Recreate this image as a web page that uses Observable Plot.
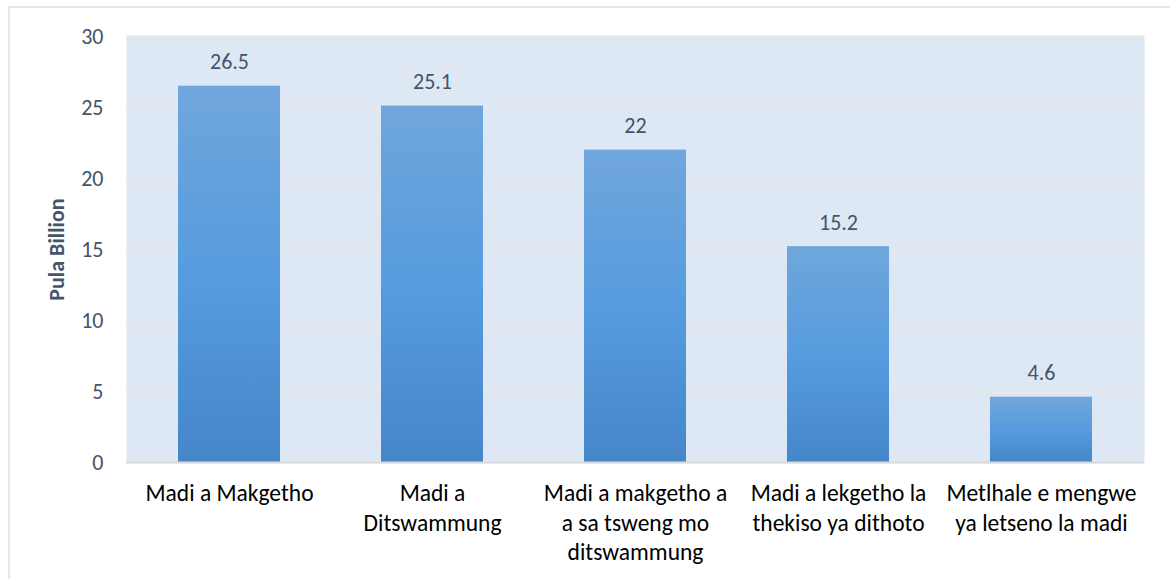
<!DOCTYPE html>
<html>
<head>
<meta charset="utf-8">
<script src="https://cdn.jsdelivr.net/npm/d3@7"></script>
<script src="https://cdn.jsdelivr.net/npm/@observablehq/plot@0.6"></script>
<style>
  html, body { margin: 0; padding: 0; background: #fff; }
  #wrap { position: relative; width: 1170px; height: 579px; overflow: hidden; }
  #border { position: absolute; left: 8px; top: 6px; width: 1200px; height: 700px; border: 2px solid #E3E6EA; box-sizing: border-box; }
  #chart { position: absolute; left: 0; top: 0; }
</style>
</head>
<body>
<div id="wrap">
  <div id="border"></div>
  <div id="chart"></div>
</div>
<script>
const categories = [
  "Madi a Makgetho",
  "Madi a Ditswammung",
  "Madi a makgetho a a sa tsweng mo ditswammung",
  "Madi a lekgetho la thekiso ya dithoto",
  "Metlhale e mengwe ya letseno la madi"
];
const tickLabels = [
  "Madi a Makgetho",
  "Madi a\nDitswammung",
  "Madi a makgetho a\na sa tsweng mo\nditswammung",
  "Madi a lekgetho la\nthekiso ya dithoto",
  "Metlhale e mengwe\nya letseno la madi"
];
const values = [26.5, 25.1, 22, 15.2, 4.6];
const yTicks = [0, 5, 10, 15, 20, 25, 30];

const data = categories.map((c, i) => ({ cat: c, value: values[i] }));
const labelOf = new Map(categories.map((c, i) => [c, tickLabels[i]]));

const font = "Carlito, Calibri, Lato, sans-serif";

const svg = Plot.plot({
  width: 1170,
  height: 579,
  marginLeft: 126,
  marginRight: 26,
  marginTop: 36,
  marginBottom: 117,
  style: { fontFamily: font, background: "transparent" },
  x: { domain: categories, paddingInner: 0.5, paddingOuter: 0.25 },
  y: { domain: [0, 30] },
  marks: [
    Plot.frame({ fill: "#DEE8F4", stroke: null }),
    Plot.gridY(yTicks, { stroke: "#E6E8EC", strokeOpacity: 1, strokeWidth: 2 }),
    Plot.barY(data, { x: "cat", y: "value", fill: "url(#barGrad)" }),
    Plot.ruleY([0], { stroke: "#D9D9D9", strokeWidth: 2 }),
    Plot.text(data, { x: "cat", y: "value", text: d => String(d.value), dy: -24, fontSize: 22, fill: "#44546A" }),
    Plot.axisY({ ticks: yTicks, tickSize: 0, tickPadding: 23, fontSize: 22, color: "#44546A", label: null }),
    Plot.axisY({ ticks: [], label: "Pula Billion", labelArrow: "none", labelAnchor: "center", labelOffset: 78, fontSize: 22, fontWeight: "bold", color: "#44546A" }),
    Plot.axisX({ tickSize: 0, tickPadding: 18, fontSize: 23.5, color: "#000", lineHeight: 1.25, tickFormat: d => labelOf.get(d), label: null, lineAnchor: "top" })
  ]
});

const ns = "http://www.w3.org/2000/svg";
const defs = document.createElementNS(ns, "defs");
const grad = document.createElementNS(ns, "linearGradient");
grad.setAttribute("id", "barGrad");
grad.setAttribute("x1", "0"); grad.setAttribute("y1", "0");
grad.setAttribute("x2", "0"); grad.setAttribute("y2", "1");
[["0%", "#70A6DC"], ["50%", "#569CDE"], ["100%", "#4587C9"]].forEach(([o, c]) => {
  const s = document.createElementNS(ns, "stop");
  s.setAttribute("offset", o); s.setAttribute("stop-color", c);
  grad.appendChild(s);
});
defs.appendChild(grad);
svg.insertBefore(defs, svg.firstChild);

document.getElementById("chart").appendChild(svg);
</script>
</body>
</html>
